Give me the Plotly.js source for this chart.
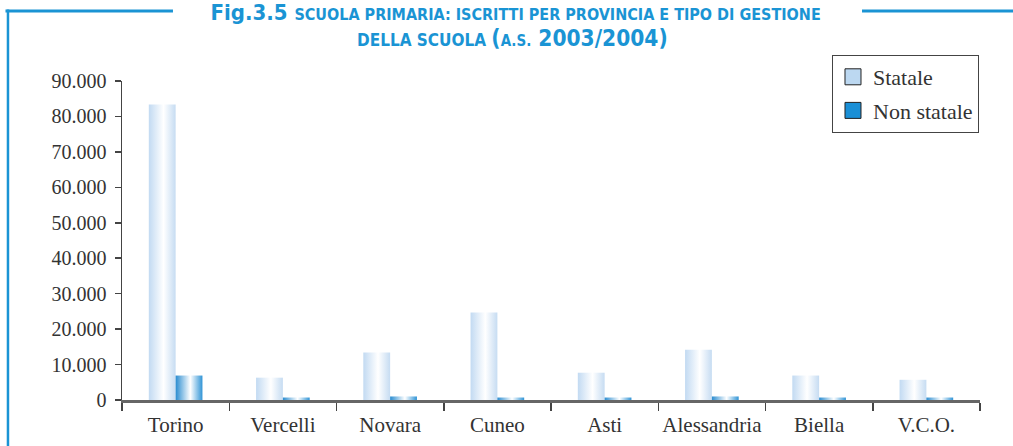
<!DOCTYPE html>
<html><head><meta charset="utf-8">
<script src="https://cdn.plot.ly/plotly-3.0.1.min.js"></script>
<style>html,body{margin:0;padding:0;background:#fff}#chart{width:1013px;height:446px}</style>
</head><body><div id="chart"></div>
<script>
const provinces = ["Torino", "Vercelli", "Novara", "Cuneo", "Asti", "Alessandria", "Biella", "V.C.O."];
const statale = [83400, 6300, 13400, 24700, 7700, 14200, 6900, 5700];
const nonStatale = [6900, 700, 1000, 700, 700, 1000, 700, 700];
const seriesNames = ["Statale", "Non statale"];
const yTicks = [0, 10000, 20000, 30000, 40000, 50000, 60000, 70000, 80000, 90000];

const serif = "Liberation Serif, Times New Roman, serif";
const titleFont = "DejaVu Sans Condensed, Liberation Sans Narrow, Arial Narrow, sans-serif";
const blue = "#1a94d4";

const traces = [
  {type: "bar", name: seriesNames[0], x: provinces, y: statale, legendgroup: "a",
   marker: {color: "#bcd8f1", line: {width: 0}}, hoverinfo: "x+y"},
  {type: "bar", name: seriesNames[1], x: provinces, y: nonStatale, legendgroup: "b",
   marker: {color: "#1a8fd6", line: {width: 0}}, hoverinfo: "x+y"}
];

const lineStyle = {color: blue, width: 3};
const tFont = {family: titleFont, color: blue, size: 22, weight: "bold"};
const layout = {
  width: 1013, height: 446,
  margin: {l: 122, r: 33, t: 81, b: 46},
  paper_bgcolor: "#fff", plot_bgcolor: "#fff",
  separators: ",.",
  barmode: "group", bargap: 0.5, bargroupgap: 0,
  showlegend: true,
  font: {family: serif, color: "#333", size: 20},
  title: {
    text: 'Fig.3.5 <span style="font-size:16px">SCUOLA PRIMARIA: ISCRITTI PER PROVINCIA E TIPO DI GESTIONE</span>',
    font: tFont,
    x: 0.509, xanchor: "center", xref: "container",
    y: 1 - 12.5 / 446, yanchor: "middle", yref: "container"
  },
  annotations: [
    {text: '<span style="font-size:17px">DELLA SCUOLA </span>(<span style="font-size:15px">A.S.</span> 2003/2004)',
     font: {family: titleFont, color: blue, size: 22.5, weight: "bold"}, showarrow: false,
     xref: "paper", yref: "paper", x: (512 - 122) / 858, xanchor: "center",
     y: (400 - 38) / 319, yanchor: "middle"}
  ],
  legend: {
    x: 0.8275, y: 1.0815, xanchor: "left", yanchor: "top",
    bordercolor: "#444", borderwidth: 1, bgcolor: "#fff",
    font: {family: serif, size: 22, color: "#333"},
    tracegroupgap: 2, traceorder: "grouped"
  },
  xaxis: {
    type: "category", range: [-0.5, 7.5], tickangle: 0,
    showline: true, linecolor: "#666", linewidth: 2.5,
    ticks: "outside", tickson: "boundaries", ticklen: 8, tickwidth: 1.5, tickcolor: "#444",
    ticklabelstandoff: 4,
    tickfont: {family: serif, size: 21, color: "#333"},
    showgrid: false, zeroline: false, fixedrange: true
  },
  yaxis: {
    range: [0, 90000], tickvals: yTicks, tickformat: ",d",
    showline: true, linecolor: "#444", linewidth: 1.5,
    ticks: "outside", ticklen: 6, tickwidth: 1.5, tickcolor: "#444",
    ticklabelstandoff: 4,
    tickfont: {family: serif, size: 20, color: "#333"},
    showgrid: false, zeroline: false, fixedrange: true
  },
  shapes: [
    {type: "line", xref: "paper", yref: "paper", x0: -0.1358, x1: 0.0594, y0: 1.2194, y1: 1.2194, line: lineStyle},
    {type: "line", xref: "paper", yref: "paper", x0: 0.8625, x1: 1.05, y0: 1.2194, y1: 1.2194, line: lineStyle},
    {type: "line", xref: "paper", yref: "paper", x0: -0.1329, x1: -0.1329, y0: 1.2240, y1: -0.2, line: {color: blue, width: 2.5}}
  ]
};

Plotly.newPlot("chart", traces, layout, {displayModeBar: false, staticPlot: true}).then(function (gd) {
  const svg = gd.querySelector("svg.main-svg");
  const ns = "http://www.w3.org/2000/svg";
  const defs = document.createElementNS(ns, "defs");
  function grad(id, stops) {
    const g = document.createElementNS(ns, "linearGradient");
    g.setAttribute("id", id);
    g.setAttribute("x1", "0"); g.setAttribute("x2", "1");
    g.setAttribute("y1", "0"); g.setAttribute("y2", "0");
    stops.forEach(function (s) {
      const st = document.createElementNS(ns, "stop");
      st.setAttribute("offset", s[0]);
      st.setAttribute("stop-color", s[1]);
      g.appendChild(st);
    });
    defs.appendChild(g);
  }
  grad("gradStatale", [["0", "#c2daf2"], ["0.55", "#ffffff"], ["1", "#c6dcf2"]]);
  grad("gradNon", [["0", "#2a8cd0"], ["0.55", "#ffffff"], ["1", "#3094d6"]]);
  svg.insertBefore(defs, svg.firstChild);
  const barTraces = gd.querySelectorAll(".barlayer .trace");
  const ids = ["gradStatale", "gradNon"];
  barTraces.forEach(function (t, i) {
    t.querySelectorAll("path").forEach(function (p) {
      p.style.fill = "url(#" + ids[i] + ")";
    });
  });
  gd.querySelectorAll(".legend .legendpoints path").forEach(function (p) {
    p.setAttribute("d", "M8,8H-8V-8H8Z");
    p.style.stroke = "#222";
    p.style.strokeWidth = "1px";
  });
});
</script>
</body></html>
